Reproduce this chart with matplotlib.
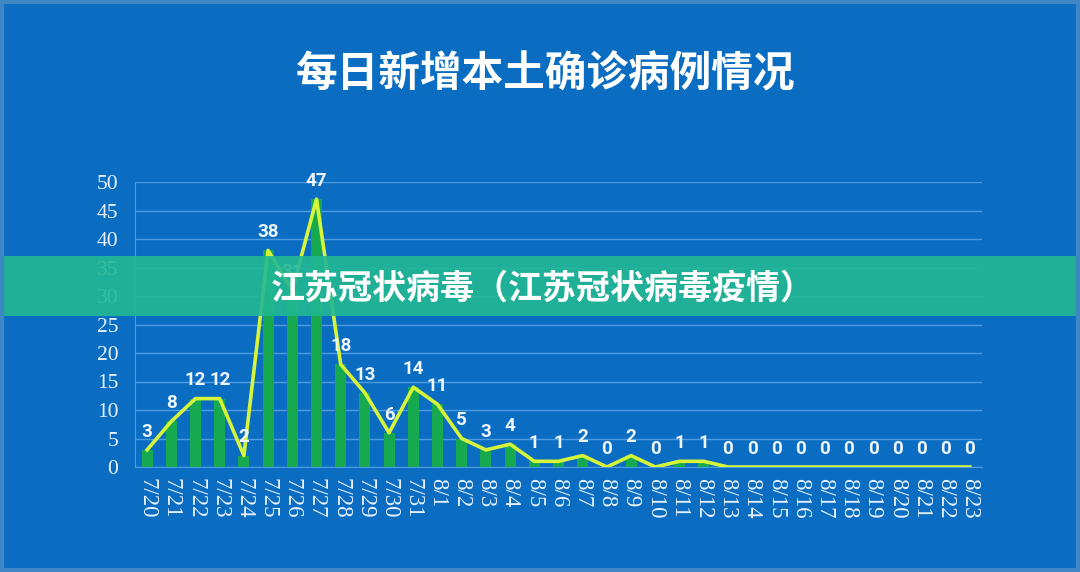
import matplotlib
matplotlib.use("Agg")
import matplotlib.pyplot as plt
from matplotlib.patches import Rectangle

dates = ["7/20", "7/21", "7/22", "7/23", "7/24", "7/25", "7/26", "7/27", "7/28", "7/29",
         "7/30", "7/31", "8/1", "8/2", "8/3", "8/4", "8/5", "8/6", "8/7", "8/8",
         "8/9", "8/10", "8/11", "8/12", "8/13", "8/14", "8/15", "8/16", "8/17", "8/18",
         "8/19", "8/20", "8/21", "8/22", "8/23"]
cases = [3, 8, 12, 12, 2, 38, 31, 47, 18, 13,
         6, 14, 11, 5, 3, 4, 1, 1, 2, 0,
         2, 0, 1, 1, 0, 0, 0, 0, 0, 0,
         0, 0, 0, 0, 0]
yticks = [0, 5, 10, 15, 20, 25, 30, 35, 40, 45, 50]
title = "每日新增本土确诊病例情况"
banner = "江苏冠状病毒（江苏冠状病毒疫情）"

BG = "#0a6dc2"
plt.rcParams['font.family'] = ['Noto Sans CJK SC', 'DejaVu Sans']

fig = plt.figure(figsize=(10.8, 5.72), dpi=100, facecolor=BG)
ax = fig.add_axes([135/1080, 1-467/572, (982-135)/1080, (467-182)/572])
ax.set_facecolor(BG)

x = list(range(len(dates)))
ax.bar(x, cases, width=0.45, color="#17a94f", zorder=2)
ax.plot(x, cases, color="#d6f53a", lw=2.6, zorder=3)
for xi, v in zip(x, cases):
    ax.text(xi, v + 1.6, str(v), ha="center", va="bottom", color="#eef6ff",
            fontsize=13.5, fontweight="bold", family=["Roboto", "DejaVu Sans"], zorder=4)

ax.set_xlim(-0.5, len(dates) - 0.5)
ax.set_ylim(0, 50)
ax.set_yticks(yticks)
ax.set_yticklabels([str(t) for t in yticks], family=["Liberation Serif"], fontsize=15.5, color="#e8f2ff")
ax.set_xticks(x)
ax.set_xticklabels(dates, rotation=-90, family=["Liberation Serif"], fontsize=16.5, color="#e8f2ff",
                   va="top", ha="center")
ax.tick_params(length=0)
ax.tick_params(axis="y", pad=12)
ax.tick_params(axis="x", pad=8)
ax.grid(axis="y", color="#4f9be0", lw=1.0, zorder=1)
ax.set_axisbelow(True)
for s in ["top", "right"]:
    ax.spines[s].set_visible(False)
ax.spines["left"].set_color("#4f9be0")
ax.spines["bottom"].set_color("#4f9be0")

fig.text(546/1080, 1-74/572, title, ha="center", va="center", color="white",
         fontsize=30, fontweight="black")

# banner
fig.patches.append(Rectangle((0, 1-316/572), 1, 60/572, transform=fig.transFigure,
                             facecolor="#22b893", alpha=0.9, zorder=10, edgecolor="none"))
fig.text(543/1080, 1-288/572, banner, ha="center", va="center", color="white",
         fontsize=24.5, fontweight="black", zorder=11)

# frame border
fig.patches.append(Rectangle((0.002, 0.003), 0.996, 0.994, transform=fig.transFigure,
                             facecolor="none", edgecolor="#3f86c4", lw=3, zorder=12))

fig.savefig("out.png", dpi=100, facecolor=BG)
